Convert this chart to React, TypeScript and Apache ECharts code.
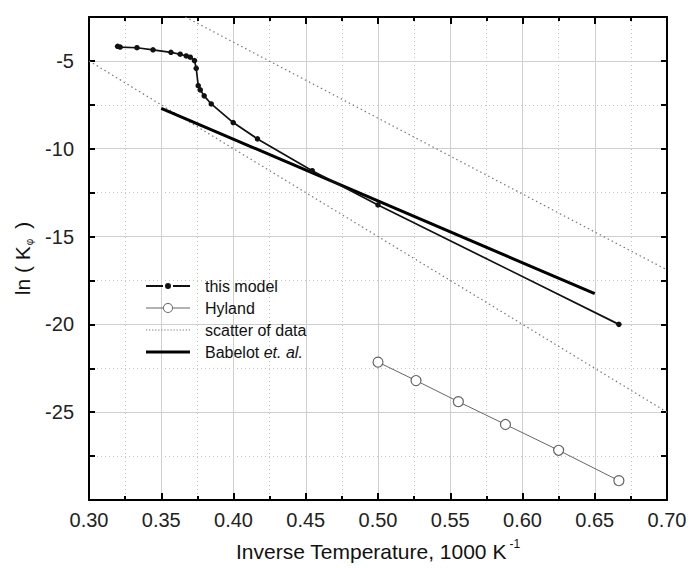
import React, { useEffect, useRef } from "react";
import * as echarts from "echarts";

const modelX = [0.3198, 0.3216, 0.3332, 0.3443, 0.3567, 0.3631, 0.3673, 0.3701, 0.373, 0.3742, 0.3756, 0.377, 0.3797, 0.3846, 0.3998, 0.4166, 0.4545, 0.5, 0.6667];
const modelY = [-4.17, -4.21, -4.25, -4.37, -4.51, -4.62, -4.72, -4.79, -4.98, -5.42, -6.41, -6.65, -6.99, -7.45, -8.51, -9.44, -11.25, -13.2, -20.0];
const hylandX = [0.5, 0.5263, 0.5556, 0.5882, 0.625, 0.6667];
const hylandY = [-22.15, -23.2, -24.4, -25.7, -27.17, -28.9];
const scatterUpperX = [0.3667, 0.7];
const scatterUpperY = [-2.5, -16.9];
const scatterLowerX = [0.3, 0.7];
const scatterLowerY = [-5, -25];
const babelotX = [0.35, 0.65];
const babelotY = [-7.7, -18.25];
const yLabelValues = [-5, -10, -15, -20, -25];

const pairs = (xs: number[], ys: number[]) => xs.map((x, i) => [x, ys[i]]);

const FONT = "'Liberation Sans', Arial, sans-serif";
const GRID = { left: 89, right: 23, top: 17, bottom: 68 };
const Y_MIN = -30;
const Y_MAX = -2.5;

// legend icon shapes (44 x 10 box)
const ICON_MODEL =
  "path://M0,4h17v2H0z M27,4h17v2H27z M19,5a3,3 0 1,0 6,0a3,3 0 1,0 -6,0z";
const ICON_HYLAND =
  "path://M0,4.5h17v1H0z M27,4.5h17v1H27z M17,5a5,5 0 1,0 10,0a5,5 0 1,0 -10,0z M18,5a4,4 0 1,1 8,0a4,4 0 1,1 -8,0z";
const ICON_BABELOT = "path://M0,0h44v3H0z";
let dots = "path://";
for (let i = 0; i < 15; i++) dots += `M${i * 3},0h1.2v1.2h-1.2z `;
const ICON_SCATTER = dots.trim();

export default function App() {
  const ref = useRef<HTMLDivElement>(null);
  useEffect(() => {
    if (!ref.current) return;
    const chart = echarts.init(ref.current, undefined, { renderer: "svg" });
    const axisLine = { show: true, lineStyle: { color: "#000", width: 2 } };
    const plain = (c: string) => ({ color: c, borderWidth: 0, borderColor: "transparent" });
    chart.setOption({
      animation: false,
      backgroundColor: "#fff",
      textStyle: { fontFamily: FONT },
      grid: { ...GRID, containLabel: false, outerBoundsMode: "none" },
      legend: {
        orient: "vertical",
        left: 141,
        top: 273,
        itemWidth: 44,
        itemHeight: 10,
        itemGap: 6,
        symbolKeepAspect: true,
        data: [
          { name: "this model", icon: ICON_MODEL, itemStyle: plain("#111") },
          { name: "Hyland", icon: ICON_HYLAND, itemStyle: plain("#666") },
          { name: "scatter of data", icon: ICON_SCATTER, itemStyle: plain("#777") },
          { name: "Babelot et. al.", icon: ICON_BABELOT, itemStyle: plain("#000") },
        ],
        textStyle: {
          fontFamily: FONT,
          fontSize: 16,
          color: "#111",
          padding: [0, 0, 0, 10],
          rich: { i: { fontStyle: "italic", fontSize: 16, fontFamily: FONT, color: "#111" } },
        },
        formatter: (name: string) => (name === "Babelot et. al." ? "Babelot {i|et. al.}" : name),
      },
      xAxis: [
        {
          type: "value",
          position: "bottom",
          min: 0.3,
          max: 0.7,
          interval: 0.05,
          axisLine,
          axisTick: { inside: true, length: 7, lineStyle: { color: "#000", width: 2 } },
          minorTick: { show: true, splitNumber: 2, length: 4, lineStyle: { color: "#000", width: 2 } },
          splitLine: { show: true, lineStyle: { color: "#cfcfcf", width: 1 } },
          minorSplitLine: { show: true, lineStyle: { color: "#c4c4c4", width: 1, type: [1, 3] } },
          axisLabel: {
            fontSize: 20,
            color: "#222",
            margin: 10,
            fontFamily: FONT,
            formatter: (v: number) => v.toFixed(2),
          },
          name: "Inverse Temperature, 1000 K{sup|-1}",
          nameLocation: "middle",
          nameGap: 38,
          nameTextStyle: {
            fontSize: 21,
            color: "#111",
            fontFamily: FONT,
            rich: { sup: { fontSize: 12, verticalAlign: "top", lineHeight: 26, padding: [0, 0, 0, 3] } },
          },
        },
        {
          type: "value",
          position: "top",
          min: 0.3,
          max: 0.7,
          interval: 0.05,
          axisLine,
          axisTick: { inside: true, length: 7, lineStyle: { color: "#000", width: 2 } },
          minorTick: { show: true, splitNumber: 2, length: 4, lineStyle: { color: "#000", width: 2 } },
          splitLine: { show: false },
          axisLabel: { show: false },
        },
      ],
      yAxis: [
        {
          type: "value",
          position: "left",
          min: Y_MIN,
          max: Y_MAX,
          interval: 2.5,
          axisLine,
          axisTick: { inside: true, length: 6, lineStyle: { color: "#000", width: 2 } },
          splitLine: { show: true, lineStyle: { color: "#c4c4c4", width: 1, type: [1, 3] } },
          axisLabel: {
            fontSize: 20,
            color: "#222",
            margin: 15,
            fontFamily: FONT,
            formatter: (v: number) => (yLabelValues.includes(v) ? String(v) : ""),
          },
          name: "ln ( K{sub|φ} )",
          nameLocation: "middle",
          nameGap: 52,
          nameRotate: 90,
          nameTextStyle: {
            fontSize: 21,
            color: "#111",
            fontFamily: FONT,
            rich: { sub: { fontSize: 10, verticalAlign: "bottom", lineHeight: 24, padding: [0, 4, 0, 1] } },
          },
        },
        {
          type: "value",
          position: "right",
          min: Y_MIN,
          max: Y_MAX,
          interval: 2.5,
          axisLine,
          axisTick: { inside: true, length: 6, lineStyle: { color: "#000", width: 2 } },
          splitLine: { show: false },
          axisLabel: { show: false },
        },
        {
          type: "value",
          position: "left",
          min: Y_MIN,
          max: Y_MAX,
          interval: 5,
          axisLine: { show: false },
          axisTick: { show: false },
          axisLabel: { show: false },
          splitLine: { show: true, lineStyle: { color: "#cfcfcf", width: 1 } },
        },
      ],
      series: [
        {
          name: "scatter of data",
          type: "line",
          data: pairs(scatterUpperX, scatterUpperY),
          symbol: "none",
          lineStyle: { color: "#777", width: 1.2, type: [1.5, 3] },
          itemStyle: { color: "#777" },
          z: 2,
        },
        {
          name: "scatter of data",
          type: "line",
          data: pairs(scatterLowerX, scatterLowerY),
          symbol: "none",
          lineStyle: { color: "#777", width: 1.2, type: [1.5, 3] },
          itemStyle: { color: "#777" },
          z: 2,
        },
        {
          name: "Babelot et. al.",
          type: "line",
          data: pairs(babelotX, babelotY),
          symbol: "none",
          lineStyle: { color: "#000", width: 3 },
          itemStyle: { color: "#000" },
          z: 3,
        },
        {
          name: "this model",
          type: "line",
          data: pairs(modelX, modelY),
          symbol: "circle",
          symbolSize: 5.5,
          lineStyle: { color: "#111", width: 1.7 },
          itemStyle: { color: "#111" },
          z: 4,
        },
        {
          name: "Hyland",
          type: "line",
          data: pairs(hylandX, hylandY),
          symbol: "circle",
          symbolSize: 10,
          lineStyle: { color: "#666", width: 1 },
          itemStyle: { color: "#fff", borderColor: "#666", borderWidth: 1.2 },
          z: 4,
        },
      ],
    });
    return () => chart.dispose();
  }, []);
  return <div ref={ref} style={{ width: 690, height: 568, position: "absolute", left: 0, top: 0 }} />;
}
